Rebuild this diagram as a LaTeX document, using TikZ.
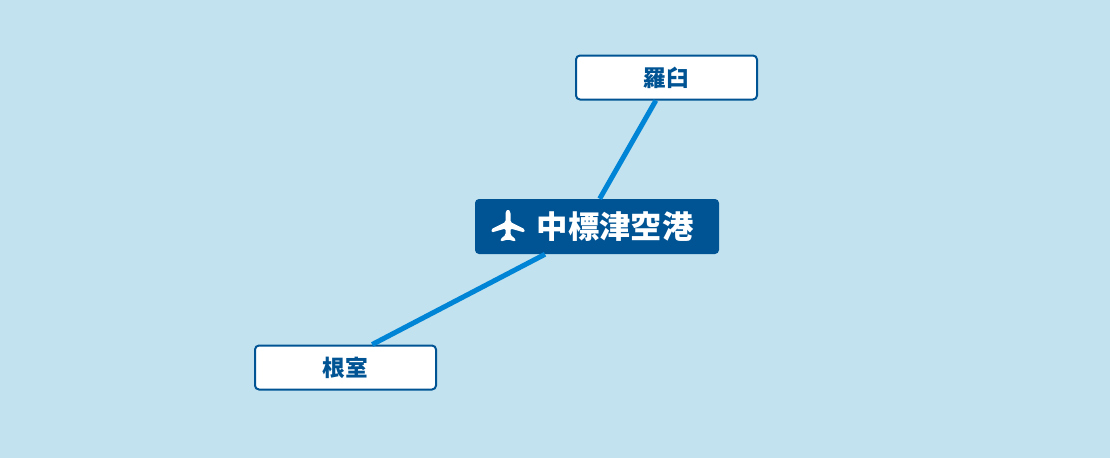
\documentclass[tikz,border=0pt]{standalone}
\usepackage{fontspec}
\newfontfamily\jpfont{Noto Sans CJK JP}
\usetikzlibrary{positioning}

\definecolor{seablue}{RGB}{194,226,239}
\definecolor{hubblue}{RGB}{0,84,148}
\definecolor{routeblue}{RGB}{0,132,214}

\tikzset{
    townbox/.style={draw=hubblue, line width=1.5pt, fill=white, rounded corners=3pt,
        minimum width=135.75pt, minimum height=33pt, inner sep=0pt,
        text=hubblue, font=\jpfont\bfseries\fontsize{17}{17}\selectfont},
    hubbox/.style={fill=hubblue, rounded corners=3pt,
        minimum width=183pt, minimum height=41.25pt, inner sep=0pt,
        text=white, font=\jpfont\bfseries\fontsize{23.5}{23.5}\selectfont},
    route/.style={routeblue, line width=3.75pt}
}

\begin{document}
\begin{tikzpicture}[x=0.75pt,y=0.75pt,yscale=-1,xscale=1]

    % sea
    \fill[seablue] (0,0) rectangle (1110,458);

    % boxes
    \node[hubbox] (nakashibetsu) at (597,226.5) {\hspace*{27pt}中標津空港};
    \node[townbox] (rausu) at (666.5,77.5) {羅臼};
    \node[townbox] (nemuro) at (345.5,367.5) {根室};

    % routes
    \path (rausu.south) ++(-8pt,0) coordinate (rausuend);
    \path (nakashibetsu.north) ++(2pt,0) coordinate (hubtop);
    \path (nakashibetsu.south) ++(-39pt,0) coordinate (hubbottom);
    \path (nemuro.north) ++(20pt,0) coordinate (nemuroend);
    \draw[route] (rausuend) -- (hubtop);
    \draw[route] (hubbottom) -- (nemuroend);

    % plane icon
    \begin{scope}[shift={(508,226)}]
    \fill[white, rounded corners=1pt] (0,-17) -- (2.5,-14) -- (2.5,-4) -- (16.5,3) -- (16.5,6.5)
        -- (2.5,2.5) -- (2.5,9) -- (7.5,13) -- (7.5,15.5) -- (0,13.5) -- (-7.5,15.5) -- (-7.5,13)
        -- (-2.5,9) -- (-2.5,2.5) -- (-16.5,6.5) -- (-16.5,3) -- (-2.5,-4) -- (-2.5,-14) -- cycle;
    \end{scope}

\end{tikzpicture}
\end{document}
